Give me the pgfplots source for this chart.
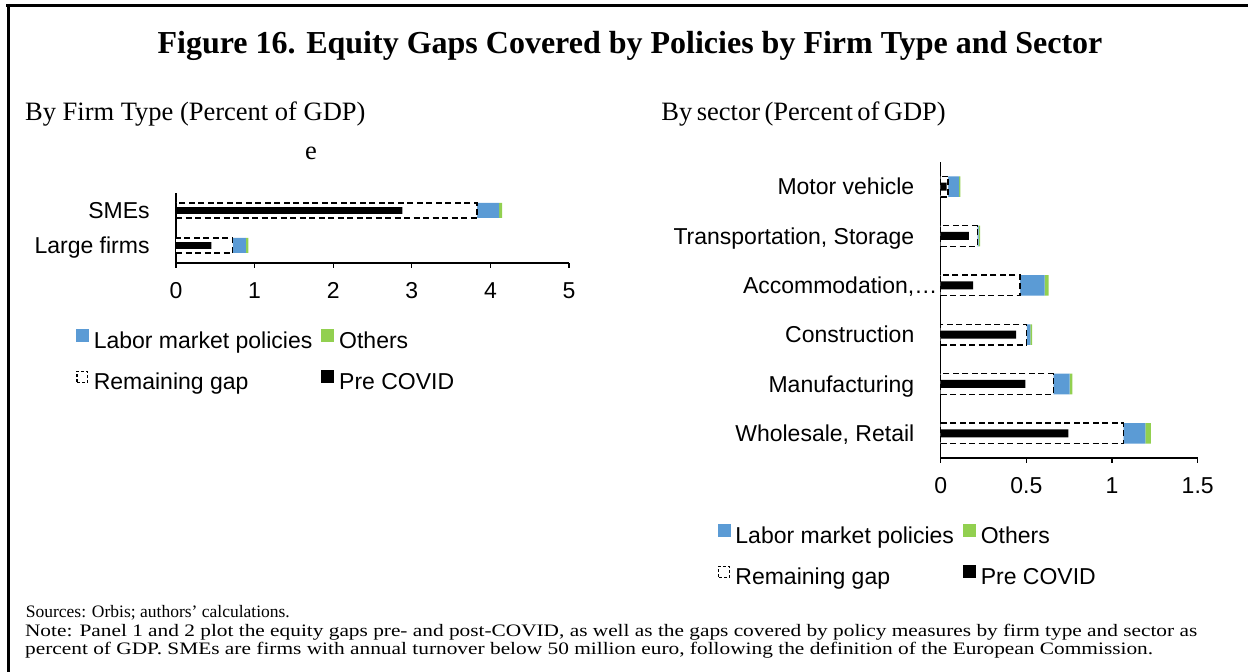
\documentclass[border=0pt]{standalone}
\usepackage{fontspec}
\usepackage{graphicx}
\setmainfont{Liberation Serif}
\newfontfamily\arial{Liberation Sans}
\usepackage{pgfplots}
\usepackage{pgfplotstable}
\pgfplotsset{compat=1.18}
\definecolor{lmp}{RGB}{91,155,213}
\definecolor{oth}{RGB}{146,208,80}

\pgfplotstableread{
y gap lmp oth pre
0 0.72 0.17 0.03 0.45
1 3.83 0.28 0.04 2.88
}\firmdata

\pgfplotstableread{
y gap lmp oth pre
0 1.066 0.129 0.031 0.745
1 0.658 0.095 0.015 0.494
2 0.502 0.021 0.010 0.440
3 0.463 0.144 0.023 0.189
4 0.214 0.008 0.008 0.165
5 0.043 0.064 0.008 0.035
}\sectordata

\newcommand\af{\arial\fontsize{11.5}{13}\selectfont}

\pgfplotsset{
 eqbase/.style={
   scale only axis,
   axis x line*=bottom, axis y line*=left,
   axis line style={black, line width=0.6pt, -},
   tick align=outside,
   major tick length=2.5pt,
   xtick style={black, line width=0.6pt},
   ytick style={draw=none},
   tick label style={font=\af},
   /pgf/number format/assume math mode=true,
   xticklabel style={anchor=north, inner sep=0pt, yshift=-7pt},
   yticklabel style={anchor=base east, inner sep=0pt, xshift=-10.5pt, yshift=-4.1pt},
   clip=false,
 },
 prebase/.style={
   scale only axis, hide axis, xbar, clip=false,
 },
 gapbar/.style={fill=white, draw=black, line width=0.75pt, dash pattern=on 3pt off 1.75pt},
 lmpbar/.style={fill=lmp, draw=none},
 othbar/.style={fill=oth, draw=none},
 prebar/.style={fill=black, draw=none},
 eqlegend/.style={
   legend columns=2,
   legend cell align=left,
   legend style={draw=none, fill=none, inner sep=0pt, outer sep=0pt,
     font=\af, row sep=8.5pt,
     nodes={inner sep=0pt, text height=8.5pt, text depth=2.5pt},
     /tikz/every odd column/.style={column sep=2.5pt},
     /tikz/every even column/.style={column sep=4.5pt}},
 },
}

\begin{document}
\begin{tikzpicture}
\path[use as bounding box] (0pt,0pt) rectangle (624pt,-336pt);
% frame
\draw[line width=1.5pt] (3pt,-2.75pt) -- (624pt,-2.75pt);
\draw[line width=1.5pt] (4.25pt,-2pt) -- (4.25pt,-336pt);

\node[anchor=base] at (315pt,-26.65pt) {\fontsize{16}{19}\selectfont\bfseries Figure 16. Equity Gaps Covered by Policies by Firm Type and Sector};
\node[anchor=base west, inner sep=0pt] at (12.35pt,-60.35pt) {\fontsize{13.25}{15}\selectfont By Firm Type (Percent of GDP)};
\node[anchor=base west, inner sep=0pt] at (330.5pt,-60.35pt) {\fontsize{13.25}{15}\selectfont\spaceskip=0.17em\relax By sector (Percent of GDP)};
\node[anchor=base, inner sep=0pt] at (155.5pt,-80pt) {\fontsize{13.25}{15}\selectfont e};

% left panel
\begin{axis}[eqbase, eqlegend, xbar stacked, bar width=7.5pt,
  at={(88pt,-131.5pt)}, anchor=south west,
  width=196.5pt, height=35pt,
  xmin=0, xmax=5, ymin=-0.5, ymax=1.5,
  xtick={0,1,2,3,4,5},
  ytick={0,1}, yticklabels={Large firms,SMEs},
  legend style={at={(axis description cs:-0.2545,-0.943)}, anchor=north west},
]
\addlegendimage{legend image code/.code={\fill[lmp] (0pt,0.5pt) rectangle (6pt,6.5pt);}}
\addlegendentry{Labor market policies}
\addlegendimage{legend image code/.code={\fill[oth] (0pt,0.5pt) rectangle (6pt,6.5pt);}}
\addlegendentry{Others}
\addlegendimage{legend image code/.code={\draw[black, line width=0.6pt, dash pattern=on 1.5pt off 1pt] (0.3pt,0.8pt) rectangle (5.7pt,6.2pt);}}
\addlegendentry{Remaining gap}
\addlegendimage{legend image code/.code={\fill[black] (0pt,0.5pt) rectangle (6pt,6.5pt);}}
\addlegendentry{Pre COVID}
\addplot[gapbar] table[x=gap,y=y]{\firmdata};
\addplot[lmpbar] table[x=lmp,y=y]{\firmdata};
\addplot[othbar] table[x=oth,y=y]{\firmdata};
\end{axis}
\begin{axis}[prebase, bar width=3.3pt,
  at={(88pt,-131.5pt)}, anchor=south west,
  width=196.5pt, height=35pt,
  xmin=0, xmax=5, ymin=-0.5, ymax=1.5]
\addplot[prebar] table[x=pre,y=y]{\firmdata};
\end{axis}

% right panel
\begin{axis}[eqbase, eqlegend, xbar stacked, bar width=10.3pt,
  at={(470.35pt,-229pt)}, anchor=south west,
  width=128.5pt, height=148pt,
  xmin=0, xmax=1.5, ymin=-0.5, ymax=5.5,
  xtick={0,0.5,1,1.5},
  ytick={0,1,2,3,4,5},
  yticklabels={{Wholesale, Retail},{Manufacturing},{Construction},{Accommodation,\rlap{…}},{Transportation, Storage},{Motor vehicle}},
  legend style={at={(axis description cs:-0.868,-0.223)}, anchor=north west},
]
\addlegendimage{legend image code/.code={\fill[lmp] (0pt,0.5pt) rectangle (6pt,6.5pt);}}
\addlegendentry{Labor market policies}
\addlegendimage{legend image code/.code={\fill[oth] (0pt,0.5pt) rectangle (6pt,6.5pt);}}
\addlegendentry{Others}
\addlegendimage{legend image code/.code={\draw[black, line width=0.6pt, dash pattern=on 1.5pt off 1pt] (0.3pt,0.8pt) rectangle (5.7pt,6.2pt);}}
\addlegendentry{Remaining gap}
\addlegendimage{legend image code/.code={\fill[black] (0pt,0.5pt) rectangle (6pt,6.5pt);}}
\addlegendentry{Pre COVID}
\addplot[gapbar] table[x=gap,y=y]{\sectordata};
\addplot[lmpbar] table[x=lmp,y=y]{\sectordata};
\addplot[othbar] table[x=oth,y=y]{\sectordata};
\end{axis}
\begin{axis}[prebase, bar width=4pt,
  at={(470.35pt,-229pt)}, anchor=south west,
  width=128.5pt, height=148pt,
  xmin=0, xmax=1.5, ymin=-0.5, ymax=5.5]
\addplot[prebar] table[x=pre,y=y]{\sectordata};
\end{axis}

% notes
\node[anchor=base west, inner sep=0pt] at (12.75pt,-309pt) {\fontsize{8.75}{10}\selectfont Sources: Orbis; authors’ calculations.};
\node[anchor=base west, inner sep=0pt] at (12.35pt,-318.5pt) {\resizebox{586pt}{\height}{\fontsize{8.75}{10}\selectfont Note: Panel 1 and 2 plot the equity gaps pre- and post-COVID, as well as the gaps covered by policy measures by firm type and sector as}};
\node[anchor=base west, inner sep=0pt] at (12.35pt,-327.5pt) {\resizebox{564pt}{\height}{\fontsize{8.75}{10}\selectfont percent of GDP. SMEs are firms with annual turnover below 50 million euro, following the definition of the European Commission.}};
\end{tikzpicture}
\end{document}
